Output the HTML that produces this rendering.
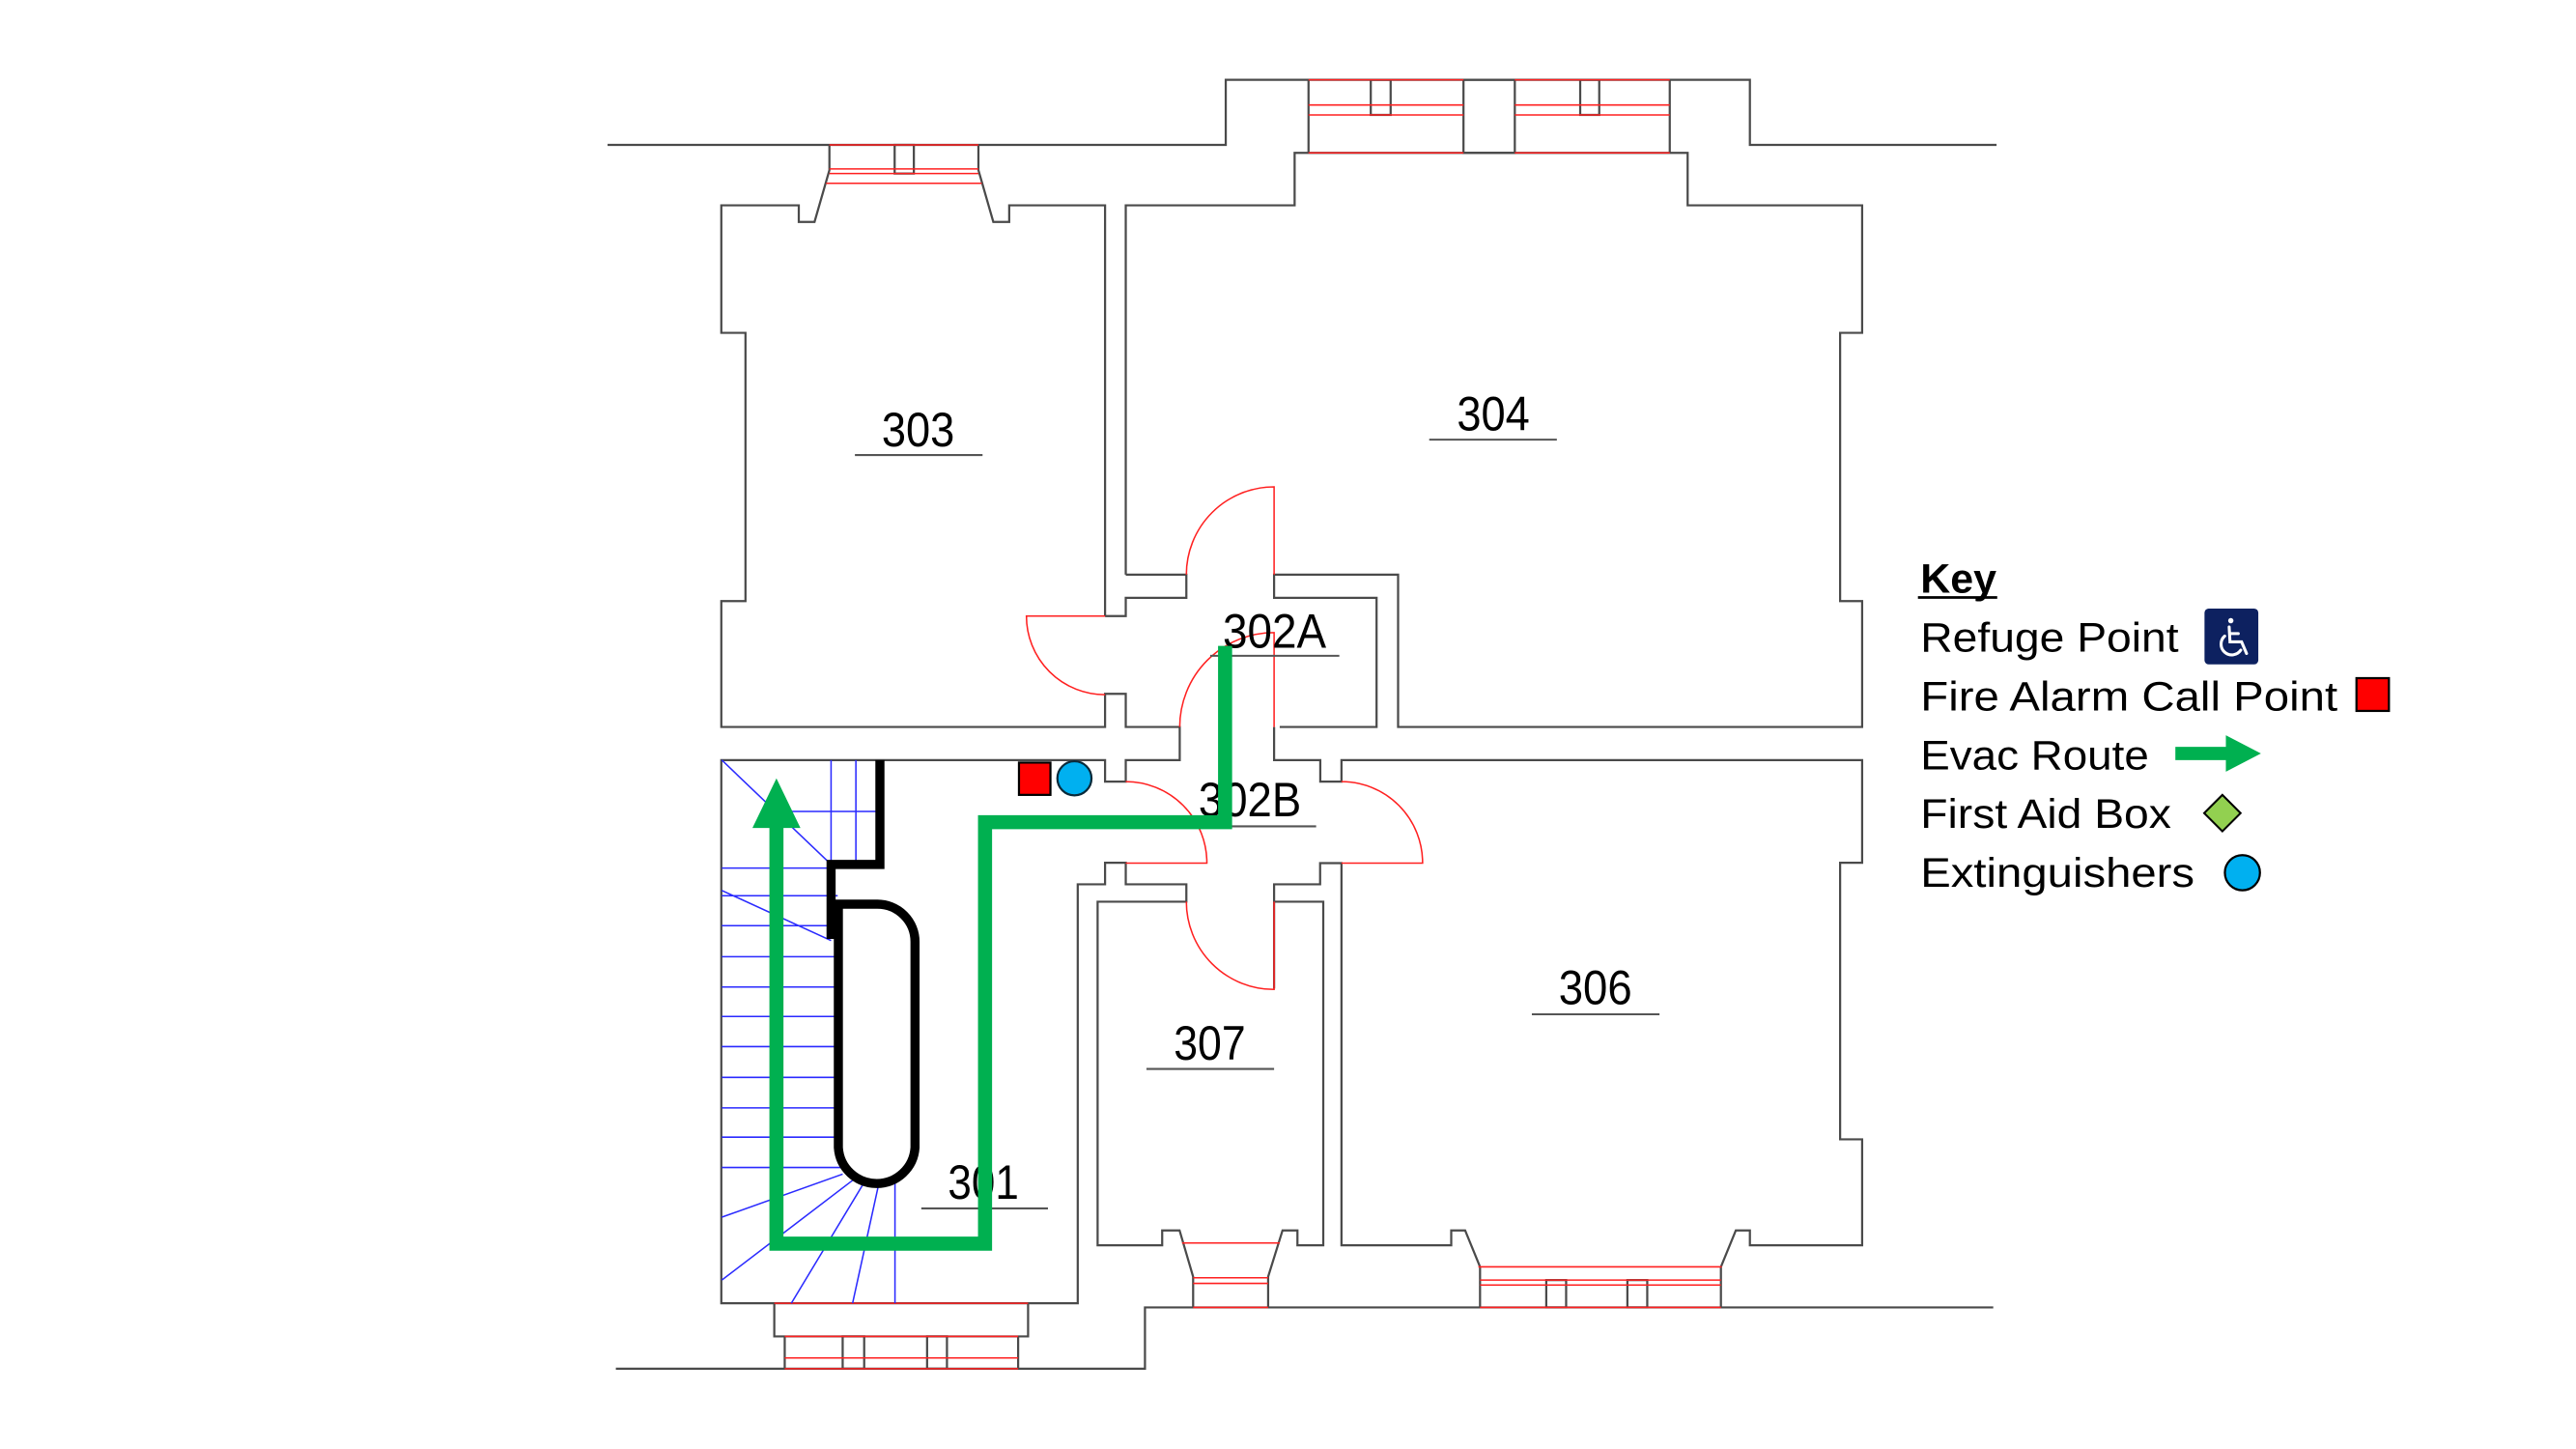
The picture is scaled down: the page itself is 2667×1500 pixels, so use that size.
<!DOCTYPE html>
<html><head><meta charset="utf-8"><style>
html,body{margin:0;padding:0;background:#fff;}
svg{display:block;}
text{font-family:"Liberation Sans",Arial,sans-serif;}
</style></head><body>
<svg width="2667" height="1500" viewBox="0 0 1556 875" preserveAspectRatio="none" xmlns="http://www.w3.org/2000/svg">
<rect width="1556" height="875" fill="#fff"/>
<g fill="none" stroke="#4a4a4a" stroke-width="1.3">
<path d="M367,87.5 H740.4 V48.2 H1057 V87.5 H1206"/>
<path d="M790.4,48.2 V92.3 M1008.6,48.2 V92.3"/>
<rect x="884" y="48.2" width="31" height="44.1"/>
<rect x="828" y="48.2" width="12" height="21.2"/>
<rect x="954.5" y="48.2" width="11.5" height="21.2"/>
<path d="M680,347 V124 H782 V92.3 H1019.4 V124 H1124.8 V201 H1111.5 V363 H1124.8 V439 H844.5 V347 H769.6 V361 H831.5 V439 H773"/>
<path d="M680,347 H716.6 V361 H680 V372 H667.5"/>
<path d="M667.5,372 V124 H609.6 V134 H600 L591,102.7 V87.5"/>
<path d="M501,87.5 V102.7 L492,134 H482.5 V124 H435.7 V201 H450.3 V363 H435.7 V439 H667.5 V419 H680 V439 H712.6 V459 H680 V472 H667.5 V459 H435.7 V787 H651 V534 H667.5 V521 H680 V534 H716.6 V544.5 H663 V752 H702 V743 H712.5 L720.7,771 V789.5"/>
<rect x="540.4" y="87.5" width="11.6" height="17.3"/>
<path d="M769.6,439 V459 H797.5 V472 H810.3 V459 H1124.8 V521 H1111.5 V688 H1124.8 V752 H1057 V743 H1048.5 L1039.5,765 V789.5"/>
<path d="M769.6,597 V544.5 H799.3 V752 H783.7 V743 H774.7 L766,771 V789.5"/>
<path d="M769.6,544.5 V534 H797.4 V521.2 H810.3 V752 H876.6 V743 H885 L894,765 V789.5"/>
<path d="M372,826.5 H691.6 V789.5 H1204"/>
<path d="M467.7,787 V807 H621 V787 M474,807 V826.5 M615,807 V826.5"/>
<rect x="509" y="807" width="13" height="19.5"/>
<rect x="560" y="807" width="12" height="19.5"/>
<rect x="934" y="773" width="12" height="16.5"/>
<rect x="983" y="773" width="12" height="16.5"/>
</g>
<g fill="none" stroke="#ff2020" stroke-width="0.9">
<path d="M790.4,48.2 H884 M915,48.2 H1008.6 M790.4,63.4 H884 M915,63.4 H1008.6 M790.4,69.4 H884 M915,69.4 H1008.6 M790.4,92.3 H884 M915,92.3 H1008.6"/>
<path d="M501,87.5 H591 M501,102 H591 M501,104.8 H591 M499,110.7 H593"/>
<path d="M893,765 H1040 M894,773 H1039.5 M894,776 H1039.5 M894,789.5 H1039.5"/>
<path d="M714,750.6 H773 M720.7,771.6 H766 M720.7,775 H766 M720.7,789.5 H766"/>
<path d="M467.7,787 H621 M474,807 H615 M474,820 H615 M474,826.5 H615"/>
<path d="M769.6,347 V294 A53,53 0 0 0 716.6,347"/>
<path d="M667.5,372 H620 A47.5,47.5 0 0 0 667.5,419.5"/>
<path d="M769.6,439 V382 A57,57 0 0 0 712.6,439"/>
<path d="M680,521.2 H729 A49,49 0 0 0 680,472"/>
<path d="M810.3,521.2 H859.3 A49,49 0 0 0 810.3,472"/>
<path d="M769.6,544.5 V597.5 A53,53 0 0 1 716.6,544.5"/>
</g>
<g stroke="#2a2aff" stroke-width="0.9" fill="none">
<path d="M436,524.2 H506 M436,540.9 H506 M436,559 H506 M436,577.7 H506 M436,596 H506 M436,613.8 H506 M436,632 H506 M436,650.6 H506 M436,669 H506 M436,686.7 H506 M436,705 H509"/>
<path d="M470,490 H531.5 M502,459 V522 M517,459 V522"/>
<path d="M436,459 L502,522 M436,537.7 L502,568"/>
<path d="M509,709 L436,735 M516,712 L436,773 M522,714 L478,787 M531,714 L515,787 M540.6,712 V787"/>
</g>
<g fill="none" stroke="#000" stroke-width="5.5" stroke-linejoin="miter">
<path d="M531.5,459 V522 H502 V567"/>
<path d="M506.4,546 H530 A22.7,22.7 0 0 1 552.7,568.7 V693 A23.2,23.2 0 0 1 506.4,693 Z"/>
</g>
<g fill="#000" font-size="29">
<text x="532.6" y="269.4" textLength="44" lengthAdjust="spacingAndGlyphs">303</text>
<text x="880" y="260" textLength="44" lengthAdjust="spacingAndGlyphs">304</text>
<text x="738.6" y="391" textLength="62.5" lengthAdjust="spacingAndGlyphs">302A</text>
<text x="724" y="493" textLength="62" lengthAdjust="spacingAndGlyphs">302B</text>
<text x="941.5" y="606.4" textLength="44.3" lengthAdjust="spacingAndGlyphs">306</text>
<text x="709" y="640" textLength="43.4" lengthAdjust="spacingAndGlyphs">307</text>
<text x="572.6" y="724" textLength="42.8" lengthAdjust="spacingAndGlyphs">301</text>
</g>
<g stroke="#555" stroke-width="1.2">
<path d="M516.4,274.8 H593.5 M863.3,265.5 H940.4 M731,396 H809 M731,499 H795 M925.3,612.5 H1002.4 M692.5,645.5 H769.6 M556.5,729.7 H633"/>
</g>
<polyline points="740,390 740,496.5 595,496.5 595,751 469,751 469,497" fill="none" stroke="#00b050" stroke-width="8.5" stroke-linejoin="miter"/>
<polygon points="469,470 483.5,500 454.5,500" fill="#00b050"/>
<rect x="615.5" y="460.5" width="19" height="19.5" fill="#ff0000" stroke="#000" stroke-width="1.3"/>
<circle cx="649" cy="470" r="10.3" fill="#00b0f0" stroke="#0a2a3a" stroke-width="1.3"/>
<g fill="#000" font-size="25">
<text x="1160" y="358" font-weight="bold" textLength="46" lengthAdjust="spacingAndGlyphs">Key</text>
<text x="1160" y="393.5" textLength="156" lengthAdjust="spacingAndGlyphs">Refuge Point</text>
<text x="1160" y="429" textLength="252" lengthAdjust="spacingAndGlyphs">Fire Alarm Call Point</text>
<text x="1160" y="464.5" textLength="138" lengthAdjust="spacingAndGlyphs">Evac Route</text>
<text x="1160" y="500" textLength="151.5" lengthAdjust="spacingAndGlyphs">First Aid Box</text>
<text x="1160" y="535.5" textLength="165.6" lengthAdjust="spacingAndGlyphs">Extinguishers</text>
</g>
<path d="M1158.5,360.8 H1206.4" stroke="#000" stroke-width="1.6"/>
<rect x="1331.6" y="367.5" width="32.5" height="33.7" rx="2.5" fill="#0d2160"/>
<g stroke="#fff" fill="none" stroke-width="1.8" stroke-linecap="round">
<circle cx="1347.5" cy="374.8" r="1.6" fill="#fff" stroke="none"/>
<path d="M1346.5,378.6 L1347,387.6 H1354 L1357,394.6"/>
<path d="M1347,382.6 H1352"/>
<path d="M1343.8,384.1 A6.5,6.5 0 1 0 1353.5,392.6"/>
</g>
<rect x="1423.4" y="409.5" width="19.6" height="19.8" fill="#ff0000" stroke="#000" stroke-width="1.3"/>
<rect x="1314" y="451" width="31" height="8" fill="#00b050"/>
<polygon points="1344.5,444 1365.7,455 1344.5,466" fill="#00b050"/>
<polygon points="1342.4,480 1353.4,491 1342.4,502 1331.4,491" fill="#92d050" stroke="#000" stroke-width="1.2"/>
<circle cx="1354.5" cy="527" r="10.6" fill="#00b0f0" stroke="#000" stroke-width="1.3"/>
</svg>
</body></html>
